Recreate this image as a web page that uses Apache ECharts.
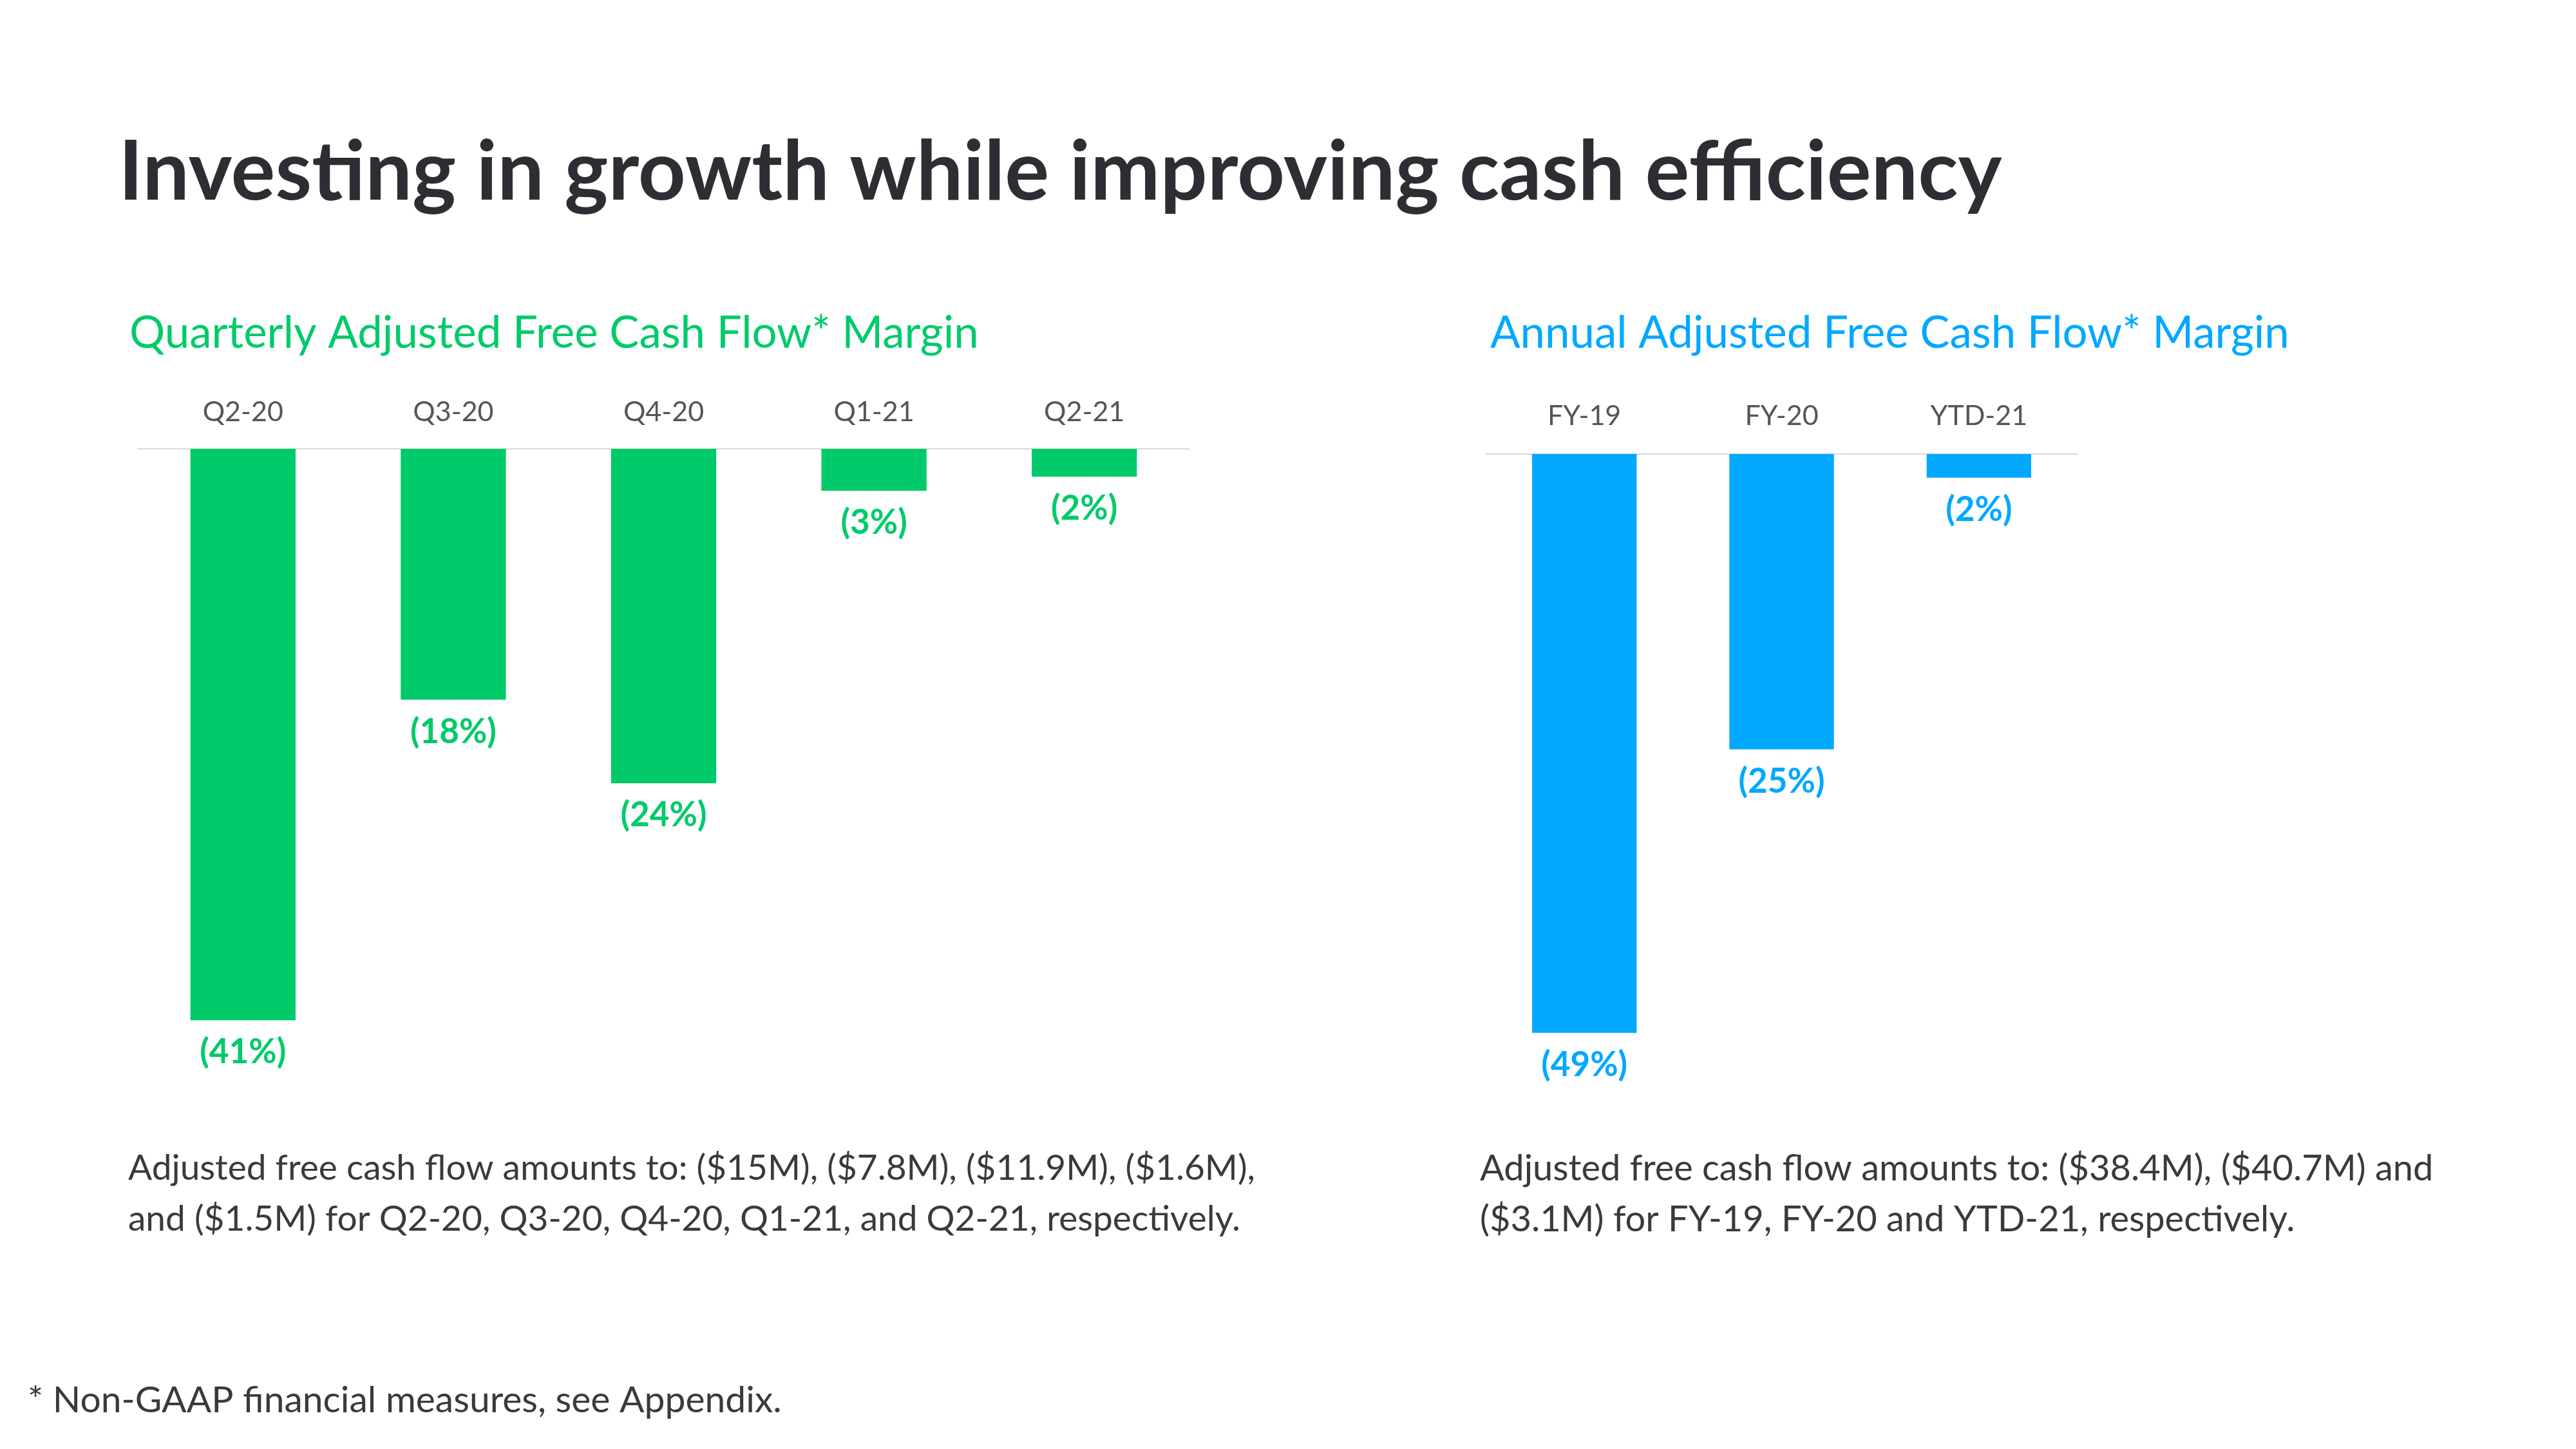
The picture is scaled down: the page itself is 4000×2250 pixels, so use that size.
<!DOCTYPE html>
<html>
<head>
<meta charset="utf-8">
<script src="https://cdn.jsdelivr.net/npm/echarts@6/dist/echarts.min.js"></script>
<style>
html,body{margin:0;padding:0;background:#fff;}
#chart{width:4000px;height:2250px;}
</style>
</head>
<body>
<div id="chart"></div>
<script>
const quarterCategories = ['Q2-20', 'Q3-20', 'Q4-20', 'Q1-21', 'Q2-21'];
const quarterMargins = [-41, -18, -24, -3, -2];
const annualCategories = ['FY-19', 'FY-20', 'YTD-21'];
const annualMargins = [-49, -25, -2];

const GREEN = '#00CA69';
const BLUE = '#00A8FF';
const FONT = 'Lato';

const chart = echarts.init(document.getElementById('chart'), null, {renderer: 'canvas'});

function fmt(p) { return '(' + Math.abs(p.value) + '%)'; }

const option = {
  backgroundColor: '#ffffff',
  animation: false,
  grid: [
    {left: 214, top: 697, width: 1633, height: 1082},
    {left: 2307, top: 705, width: 919, height: 917}
  ],
  xAxis: [
    {type: 'category', gridIndex: 0, position: 'top', data: quarterCategories,
     axisLine: {show: true, lineStyle: {color: '#d9d9d9', width: 2}},
     axisTick: {show: false},
     axisLabel: {color: '#555559', fontFamily: FONT, fontSize: 43, margin: 35}},
    {type: 'category', gridIndex: 1, position: 'top', data: annualCategories,
     axisLine: {show: true, lineStyle: {color: '#d9d9d9', width: 2}},
     axisTick: {show: false},
     axisLabel: {color: '#555559', fontFamily: FONT, fontSize: 43, margin: 37}}
  ],
  yAxis: [
    {type: 'value', gridIndex: 0, min: -50, max: 0, show: false, splitLine: {show: false}},
    {type: 'value', gridIndex: 1, min: -50, max: 0, show: false, splitLine: {show: false}}
  ],
  series: [
    {type: 'bar', xAxisIndex: 0, yAxisIndex: 0, data: quarterMargins, barWidth: '50%',
     itemStyle: {color: GREEN},
     label: {show: true, position: 'bottom', distance: 22, formatter: fmt,
             color: GREEN, fontFamily: FONT, fontWeight: 'bold', fontSize: 53, lineHeight: 56}},
    {type: 'bar', xAxisIndex: 1, yAxisIndex: 1, data: annualMargins, barWidth: '53%',
     itemStyle: {color: BLUE},
     label: {show: true, position: 'bottom', distance: 22, formatter: fmt,
             color: BLUE, fontFamily: FONT, fontWeight: 'bold', fontSize: 53, lineHeight: 56}}
  ],
  graphic: [
    {type: 'text', left: 184, top: 204, style: {text: 'Investing in growth while improving cash efficiency',
      fill: '#2d2d33', font: 'bold 129px ' + FONT}},
    {type: 'text', left: 201, top: 483, style: {text: 'Quarterly Adjusted Free Cash Flow* Margin',
      fill: GREEN, font: '69px ' + FONT}},
    {type: 'text', left: 2314, top: 483, style: {text: 'Annual Adjusted Free Cash Flow* Margin',
      fill: BLUE, font: '69px ' + FONT}},
    {type: 'text', left: 199, top: 1775, style: {text: 'Adjusted free cash flow amounts to: ($15M), ($7.8M), ($11.9M), ($1.6M),\nand ($1.5M) for Q2-20, Q3-20, Q4-20, Q1-21, and Q2-21, respectively.',
      fill: '#3a3a3e', font: '55px ' + FONT, lineHeight: 79}},
    {type: 'text', left: 2298, top: 1775, style: {text: 'Adjusted free cash flow amounts to: ($38.4M), ($40.7M) and\n($3.1M) for FY-19, FY-20 and YTD-21, respectively.',
      fill: '#3a3a3e', font: '56px ' + FONT, lineHeight: 79}},
    {type: 'text', left: 43, top: 2146, style: {text: '* Non-GAAP financial measures, see Appendix.',
      fill: '#3a3a3e', font: '57px ' + FONT}}
  ]
};
chart.setOption(option);
</script>
</body>
</html>
